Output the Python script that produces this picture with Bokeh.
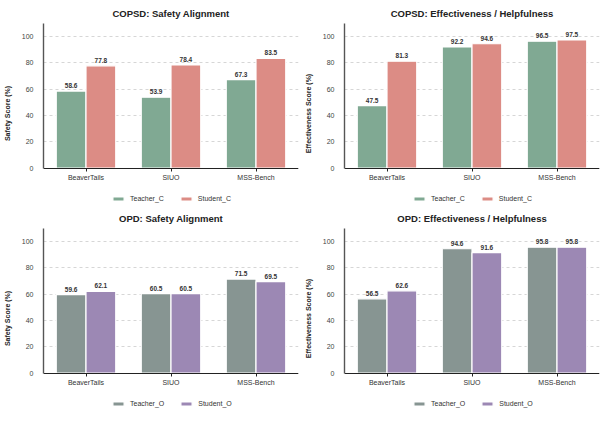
from bokeh.plotting import figure
from bokeh.models import Range1d, FactorRange, Legend, LegendItem, ColumnDataSource
from bokeh.transform import dodge
from bokeh.layouts import column, row
from bokeh.core.properties import value
from bokeh.embed import file_html
from bokeh.resources import INLINE

categories = ["BeaverTails", "SIUO", "MSS-Bench"]
copsd_safety_teacher = [58.6, 53.9, 67.3]
copsd_safety_student = [77.8, 78.4, 83.5]
copsd_eff_teacher = [47.5, 92.2, 96.5]
copsd_eff_student = [81.3, 94.6, 97.5]
opd_safety_teacher = [59.6, 60.5, 71.5]
opd_safety_student = [62.1, 60.5, 69.5]
opd_eff_teacher = [56.5, 94.6, 95.8]
opd_eff_student = [62.6, 91.6, 95.8]
y_ticks = [0, 20, 40, 60, 80, 100]

FONT = "Liberation Sans"
FW, FH = 255, 180


def make_panel(title, ylabel, teacher, student, tname, sname, tcolor, scolor):
    src = ColumnDataSource(dict(
        cat=categories, t=teacher, s=student,
        tl=[f"{v:.1f}" for v in teacher], sl=[f"{v:.1f}" for v in student]))
    p = figure(x_range=FactorRange(*categories, range_padding=0),
               y_range=Range1d(-27, 110), frame_width=FW, frame_height=FH,
               output_backend="svg", toolbar_location=None,
               min_border_left=40, min_border_right=3,
               min_border_top=2, min_border_bottom=2)
    rt = p.vbar(x=dodge('cat', -0.175, range=p.x_range), top='t', width=0.35,
                source=src, fill_color=tcolor, line_color="white", line_width=1.2)
    rs = p.vbar(x=dodge('cat', 0.175, range=p.x_range), top='s', width=0.35,
                source=src, fill_color=scolor, line_color="white", line_width=1.2)
    for key, lab, off in (('t', 'tl', -0.175), ('s', 'sl', 0.175)):
        p.text(x=dodge('cat', off, range=p.x_range), y=key, text=lab, source=src,
               text_align="center", text_baseline="bottom", y_offset=-3,
               text_font=value(FONT), text_font_size="6.5px",
               text_font_style="bold", text_color="#333333")
    p.title.text = title
    p.title.align = "center"
    p.title.text_font = FONT
    p.title.text_font_size = "9.5px"
    p.title.text_font_style = "bold"
    p.title.text_color = "#222222"

    p.outline_line_color = None
    p.xgrid.grid_line_color = None
    p.ygrid.grid_line_color = "#cccccc"
    p.ygrid.grid_line_dash = "3 3"
    p.ygrid.grid_line_width = 0.8
    p.yaxis.ticker = y_ticks
    p.yaxis.bounds = (0, 110)
    p.yaxis.axis_label = ylabel
    p.yaxis.axis_label_text_font = FONT
    p.yaxis.axis_label_text_font_size = "7px"
    p.yaxis.axis_label_text_font_style = "bold"
    p.yaxis.axis_label_text_color = "#222222"
    p.yaxis.axis_label_standoff = 8
    p.yaxis.major_label_text_font = FONT
    p.yaxis.major_label_text_font_size = "7px"
    p.yaxis.major_label_text_color = "#444444"
    p.yaxis.major_tick_line_color = None
    p.yaxis.minor_tick_line_color = None
    p.yaxis.axis_line_color = "#555555"
    p.yaxis.axis_line_width = 1.4
    p.yaxis.major_label_standoff = 4

    p.xaxis.fixed_location = 0
    p.xaxis.axis_line_color = "#222222"
    p.xaxis.axis_line_width = 1.2
    p.xaxis.major_tick_line_color = "#222222"
    p.xaxis.major_tick_out = 3
    p.xaxis.major_tick_in = 0
    p.xaxis.major_label_text_font = FONT
    p.xaxis.major_label_text_font_size = "7px"
    p.xaxis.major_label_text_color = "#333333"
    p.xaxis.major_label_standoff = 3

    legend = Legend(items=[LegendItem(label=tname, renderers=[rt]),
                           LegendItem(label=sname, renderers=[rs])],
                    orientation="horizontal", location=(68, 1),
                    border_line_color=None, background_fill_alpha=0,
                    label_text_font=FONT, label_text_font_size="7px",
                    label_text_color="#333333",
                    glyph_width=14, glyph_height=5, spacing=15,
                    label_standoff=5, padding=2, margin=0)
    p.add_layout(legend, "center")
    return p


green, red = "#80a993", "#dc8c85"
gray, purple = "#879592", "#9c88b4"

p1 = make_panel("COPSD: Safety Alignment", "Safety Score (%)",
                copsd_safety_teacher, copsd_safety_student,
                "Teacher_C", "Student_C", green, red)
p2 = make_panel("COPSD: Effectiveness / Helpfulness", "Effectiveness Score (%)",
                copsd_eff_teacher, copsd_eff_student,
                "Teacher_C", "Student_C", green, red)
p3 = make_panel("OPD: Safety Alignment", "Safety Score (%)",
                opd_safety_teacher, opd_safety_student,
                "Teacher_O", "Student_O", gray, purple)
p4 = make_panel("OPD: Effectiveness / Helpfulness", "Effectiveness Score (%)",
                opd_eff_teacher, opd_eff_student,
                "Teacher_O", "Student_O", gray, purple)

layout = column(row(p1, p2), row(p3, p4))
open("out.html", "w").write(file_html(layout, INLINE))
